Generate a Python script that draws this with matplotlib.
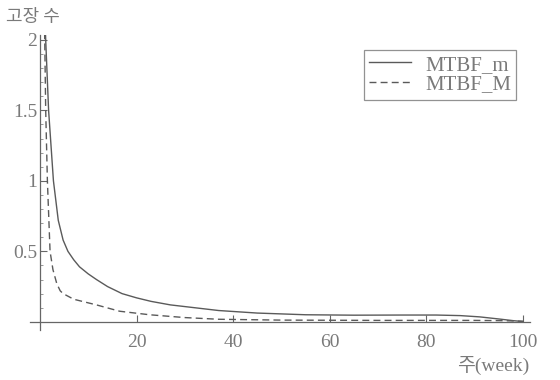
import matplotlib
matplotlib.use("Agg")
import matplotlib.pyplot as plt
from matplotlib.ticker import MultipleLocator

# values
weeks_m = [0.9, 1.2, 1.8, 2.8, 3.8, 4.8, 5.8, 7, 8.2, 10, 11.7, 14, 17, 20, 23, 27, 32, 37, 45, 55, 65, 75, 82, 87, 91, 95, 98, 100]
mtbf_m = [2.3, 2.0, 1.5, 1.0, 0.72, 0.58, 0.5, 0.44, 0.39, 0.34, 0.30, 0.25, 0.2, 0.17, 0.145, 0.12, 0.1, 0.08, 0.062, 0.05, 0.047, 0.048, 0.048, 0.044, 0.035, 0.02, 0.008, 0.002]

weeks_M = [0.85, 1.0, 1.2, 1.55, 2.1, 2.7, 3.5, 4.2, 4.8, 7, 11.7, 16.5, 22.7, 30, 37, 50, 70, 90, 96, 100]
mtbf_M = [2.3, 2.0, 1.5, 1.0, 0.5, 0.37, 0.27, 0.22, 0.2, 0.16, 0.12, 0.075, 0.05, 0.03, 0.018, 0.012, 0.01, 0.01, 0.008, 0.004]

x_ticks = [20, 40, 60, 80, 100]
y_ticks = [0.5, 1, 1.5, 2]

serif = ["Liberation Serif", "Noto Sans CJK KR"]
grey = "#7a7a7a"
line_col = "#5a5a5a"

fig = plt.figure(figsize=(5.6, 3.8), dpi=100)
ax = fig.add_axes([0.054, 0.132, 0.893, 0.776])

ax.plot(weeks_m, mtbf_m, color=line_col, lw=1.0, label="MTBF_m")
ax.plot(weeks_M, mtbf_M, color=line_col, lw=1.0, ls=(0, (5, 3)), label="MTBF_M")

ax.set_xlim(-2, 101.5)
ax.set_ylim(-0.057, 2.035)

for s in ["top", "right"]:
    ax.spines[s].set_visible(False)
for s in ["left", "bottom"]:
    ax.spines[s].set_position(("data", 0))
    ax.spines[s].set_color("#666666")
    ax.spines[s].set_linewidth(0.9)

ax.set_xticks(x_ticks)
ax.set_yticks(y_ticks)
ax.set_yticklabels([f"{v:g}" for v in y_ticks])
ax.yaxis.set_minor_locator(MultipleLocator(0.1))
ax.tick_params(axis="both", which="major", direction="in", length=5, width=0.8,
               color="#666666", labelcolor=grey, labelsize=14, pad=2)
ax.tick_params(axis="y", which="minor", direction="in", length=2.5, width=0.6, color="#888888")
ax.tick_params(axis="x", pad=9)
for lbl in ax.get_xticklabels() + ax.get_yticklabels():
    lbl.set_fontfamily(serif)

leg = ax.legend(loc="upper right", bbox_to_anchor=(0.972, 0.949), borderaxespad=0,
                prop={"family": serif, "size": 15},
                frameon=True, fancybox=False, handlelength=2.0, handletextpad=0.7,
                borderpad=0.25, labelspacing=0.0, edgecolor="#777777", labelcolor=grey)
leg.get_frame().set_linewidth(0.9)

fig.text(0.01, 0.978, "고장 수", fontsize=13, color=grey, family=["Noto Sans CJK KR"], va="top", ha="left")
fig.text(0.946, 0.012, "주(week)", fontsize=14, color=grey, family=serif, va="bottom", ha="right")

fig.savefig("out.png", dpi=100)
